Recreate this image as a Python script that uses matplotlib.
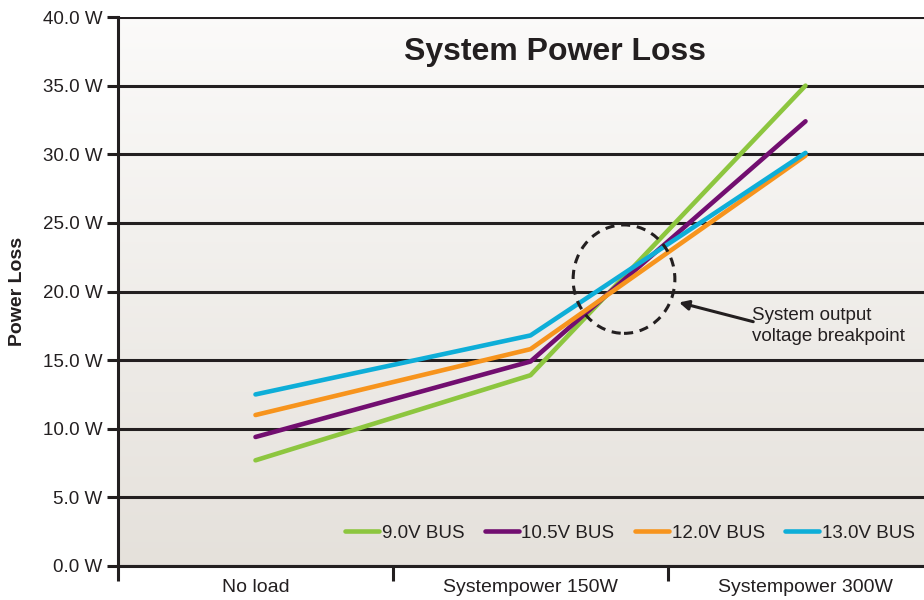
import numpy as np
import matplotlib
matplotlib.use("Agg")
import matplotlib.pyplot as plt
from matplotlib.patches import Ellipse

plt.rcParams['font.family'] = ['Liberation Sans', 'DejaVu Sans']

# data
categories = ['No load', 'Systempower 150W', 'Systempower 300W']
bus_labels = ['9.0V BUS', '10.5V BUS', '12.0V BUS', '13.0V BUS']
bus_9v0 = [7.7, 13.9, 35.0]
bus_10v5 = [9.4, 14.9, 32.4]
bus_12v0 = [11.0, 15.8, 29.9]
bus_13v0 = [12.5, 16.8, 30.1]
colors = ['#8dc63f', '#720e70', '#f7941d', '#0eaed8']
y_ticks = [0, 5, 10, 15, 20, 25, 30, 35, 40]

ink = '#231f20'

fig = plt.figure(figsize=(9.24, 6), dpi=100)
# the axes runs past the right edge like in the original
ax = fig.add_axes([118/924, 34/600, 825/924, 549/600])

# gradient background
grad = np.linspace(0, 1, 256).reshape(-1, 1)
top = np.array([0.985, 0.982, 0.978])
bot = np.array([0.898, 0.882, 0.859])
img = top * (1 - grad)[..., None] + bot * grad[..., None]
ax.imshow(img, extent=[0, 1, 0, 1], transform=ax.transAxes, aspect='auto', zorder=0)

x = np.arange(len(categories))
for vals, lab, c in zip([bus_9v0, bus_10v5, bus_12v0, bus_13v0], bus_labels, colors):
    ax.plot(x, vals, color=c, lw=3.3, label=lab, solid_capstyle='round', zorder=3)

ax.set_xlim(-0.5, 2.5)
ax.set_ylim(0, 40)
ax.set_yticks(y_ticks)
ax.set_yticklabels([f'{v:.1f} W' for v in y_ticks], fontsize=13.5, color=ink)
ax.grid(axis='y', color=ink, lw=2.2, zorder=1)
ax.set_axisbelow(True)
ax.tick_params(axis='y', length=8, width=2.2, color=ink, pad=3)

ax.set_xticks(x)
ax.set_xticklabels(categories, fontsize=14, color=ink)
ax.tick_params(axis='x', which='major', length=0, pad=9)
ax.set_xticks([-0.5, 0.5, 1.5], minor=True)
ax.tick_params(axis='x', which='minor', length=11, width=2.2, color=ink)

for s in ['top', 'right']:
    ax.spines[s].set_visible(False)
for s in ['left', 'bottom']:
    ax.spines[s].set_linewidth(2.2)
    ax.spines[s].set_color(ink)
ax.spines['left'].set_zorder(4)

ax.set_ylabel('Power Loss', fontsize=14, fontweight='bold', color=ink)
ax.yaxis.set_label_coords(-92/825, 0.5)

fig.text(555/924, 1 - 52/600, 'System Power Loss', fontsize=23, fontweight='bold',
         ha='center', va='center', color=ink)

# breakpoint marker
ax.add_patch(Ellipse((1.34, 20.9), 0.37, 7.9, fill=False, ls=(0, (3, 2.2)),
                     lw=2.2, color=ink, zorder=5))
ax.annotate('', xy=(1.54, 19.2), xytext=(1.81, 17.8),
            arrowprops=dict(arrowstyle='-|>', color=ink, lw=2.2,
                            mutation_scale=14, shrinkA=0, shrinkB=0), zorder=5)
ax.text(1.805, 17.5, 'System output\nvoltage breakpoint', fontsize=13.5,
        ha='left', va='center', color=ink, linespacing=1.28)

fig.legend(loc='center', bbox_to_anchor=(630/924, 67/600), ncol=4, frameon=False,
           fontsize=13.5, handlelength=1.8, handletextpad=0.15, columnspacing=1.1,
           labelcolor=ink)

fig.savefig('out.png', dpi=100)
